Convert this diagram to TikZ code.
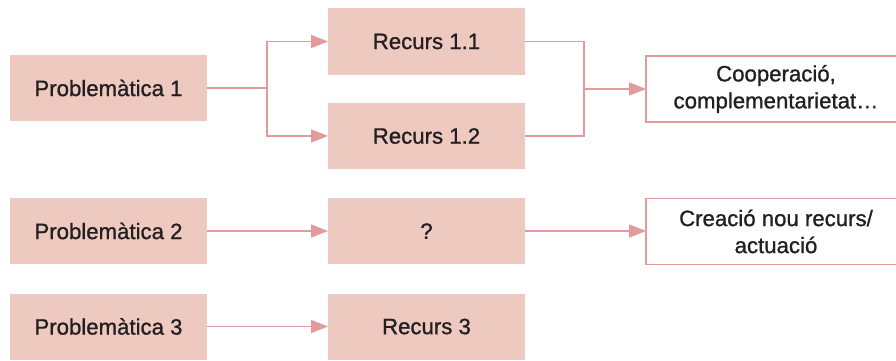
\documentclass[tikz,border=0pt]{standalone}
\usepackage{fontspec}
\setmainfont{Liberation Sans}
\newfontfamily\medfont[FakeBold=1.0]{Liberation Sans}
\usetikzlibrary{arrows.meta}
\definecolor{boxfill}{RGB}{238,201,192}
\definecolor{linec}{RGB}{226,154,154}
\definecolor{txt}{RGB}{35,31,32}
\tikzset{
  base/.style={minimum height=66pt, inner sep=0pt, outer sep=0pt, align=center,
    text=txt, font=\medfont\fontsize{22.2}{27}\selectfont},
  fbox/.style={base, fill=boxfill, minimum width=197pt},
  obox/.style={base, draw=linec, line width=1.4pt, fill=white, minimum width=260pt},
  conn/.style={draw=linec, line width=1.4pt},
  arr/.style={conn, -{Triangle[length=17pt,width=13pt]}}
}
\begin{document}
\begin{tikzpicture}[x=1pt,y=-1pt]
\useasboundingbox (0,0) rectangle (896,361);
\node[fbox] (p1) at (108.5,88) {Problemàtica 1};
\node[fbox] (r11) at (426.5,41.5) {Recurs 1.1};
\node[fbox] (r12) at (426.5,136) {Recurs 1.2};
\node[obox] (coop) at (776,89) {Cooperació,\\complementarietat…};
\node[fbox] (p2) at (108.5,231) {Problemàtica 2};
\node[fbox] (q) at (426.5,231) {?};
\node[obox] (cre) at (776,231.5) {Creació nou recurs/\\actuació};
\node[fbox] (p3) at (108.5,326.5) {Problemàtica 3};
\node[fbox] (r3) at (426.5,326.5) {Recurs 3};
\coordinate (b1) at (267,88);
\coordinate (b2) at (584,89);
\draw[conn] (p1.east) -- (b1);
\draw[arr] (b1) |- (r11.west);
\draw[arr] (b1) |- (r12.west);
\draw[conn] (r11.east) -| (b2);
\draw[conn] (r12.east) -| (b2);
\draw[arr] (b2) -- (b2 -| coop.west);
\draw[arr] (p2.east) -- (q.west);
\draw[arr] (q.east) -- (q.east -| cre.west);
\draw[arr] (p3.east) -- (r3.west);
\end{tikzpicture}
\end{document}
